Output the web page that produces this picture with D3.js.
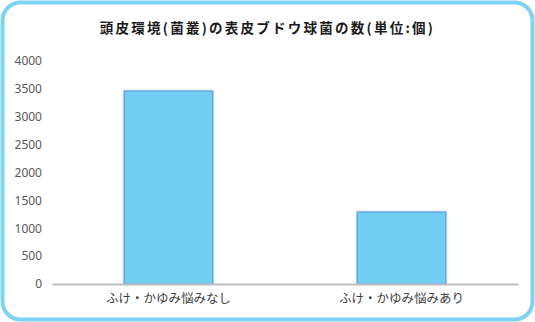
<!DOCTYPE html>
<html>
<head>
<meta charset="utf-8">
<script src="https://cdn.jsdelivr.net/npm/d3@7"></script>
<style>
  body { margin: 0; background: #fff; }
  svg { display: block; }
</style>
</head>
<body>
<div id="chart"></div>
<script>
// chart data
const categories = ['ふけ・かゆみ悩みなし', 'ふけ・かゆみ悩みあり'];
const values = [3460, 1290];
const yTicks = [0, 500, 1000, 1500, 2000, 2500, 3000, 3500, 4000];
const title = '頭皮環境(菌叢)の表皮ブドウ球菌の数(単位:個)';

const width = 535, height = 322;
const margin = {top: 61, right: 17, bottom: 38, left: 52};
const innerW = width - margin.left - margin.right;
const innerH = height - margin.top - margin.bottom;

const svg = d3.select('#chart').append('svg')
    .attr('width', width)
    .attr('height', height);

// soft edge on the bars
const defs = svg.append('defs');
const f = defs.append('filter').attr('id', 'soft')
    .attr('x', '-10%').attr('y', '-10%').attr('width', '120%').attr('height', '120%');
f.append('feGaussianBlur').attr('in', 'SourceAlpha').attr('stdDeviation', 1).attr('result', 'b');
f.append('feFlood').attr('flood-color', '#4a90d9').attr('flood-opacity', 0.5);
f.append('feComposite').attr('in2', 'b').attr('operator', 'in').attr('result', 's');
const fm = f.append('feMerge');
fm.append('feMergeNode').attr('in', 's');
fm.append('feMergeNode').attr('in', 'SourceGraphic');

// outer frame
svg.append('rect')
    .attr('x', 2.5).attr('y', 2.5)
    .attr('width', width - 5).attr('height', height - 5)
    .attr('rx', 18).attr('ry', 18)
    .attr('fill', '#fff')
    .attr('stroke', '#7ED3F4')
    .attr('stroke-width', 4);

// title
svg.append('text')
    .attr('x', width / 2)
    .attr('y', 33)
    .attr('text-anchor', 'middle')
    .attr('font-family', '"Noto Sans CJK JP", sans-serif')
    .attr('font-size', 13.5)
    .attr('font-weight', 'bold')
    .attr('letter-spacing', 2.25)
    .attr('fill', '#1a1a1a')
    .text(title);

// scales
const x = d3.scaleBand()
    .domain(categories)
    .range([0, innerW])
    .paddingInner(0.62)
    .paddingOuter(0.31);
const y = d3.scaleLinear()
    .domain([0, 4000])
    .range([innerH, 0]);

const g = svg.append('g')
    .attr('transform', `translate(${margin.left},${margin.top})`);

// y axis labels
const yAxis = d3.axisLeft(y).tickValues(yTicks).tickFormat(d3.format('d'))
    .tickSize(0).tickPadding(10);
const yAxisG = g.append('g').call(yAxis);
yAxisG.select('.domain').remove();
yAxisG.selectAll('text')
    .attr('font-family', '"Noto Sans", "DejaVu Sans", sans-serif')
    .attr('font-size', 12)
    .attr('fill', '#595959');

// bars
g.selectAll('rect.bar').data(values)
    .join('rect')
    .attr('class', 'bar')
    .attr('x', (d, i) => x(categories[i]))
    .attr('y', d => y(d))
    .attr('width', x.bandwidth())
    .attr('height', d => innerH - y(d))
    .attr('fill', '#72CFF3')
    .attr('stroke', '#5A9FE0')
    .attr('stroke-width', 1.2)
    .attr('filter', 'url(#soft)');

// x axis
const xAxis = d3.axisBottom(x).tickSize(0).tickPadding(10);
const xAxisG = g.append('g')
    .attr('transform', `translate(0,${innerH})`)
    .call(xAxis);
xAxisG.select('.domain')
    .attr('stroke', '#BFBFBF')
    .attr('stroke-width', 2);
xAxisG.selectAll('text')
    .attr('font-family', '"Noto Sans CJK JP", sans-serif')
    .attr('font-size', 12.5)
    .attr('fill', '#404040');
</script>
</body>
</html>
